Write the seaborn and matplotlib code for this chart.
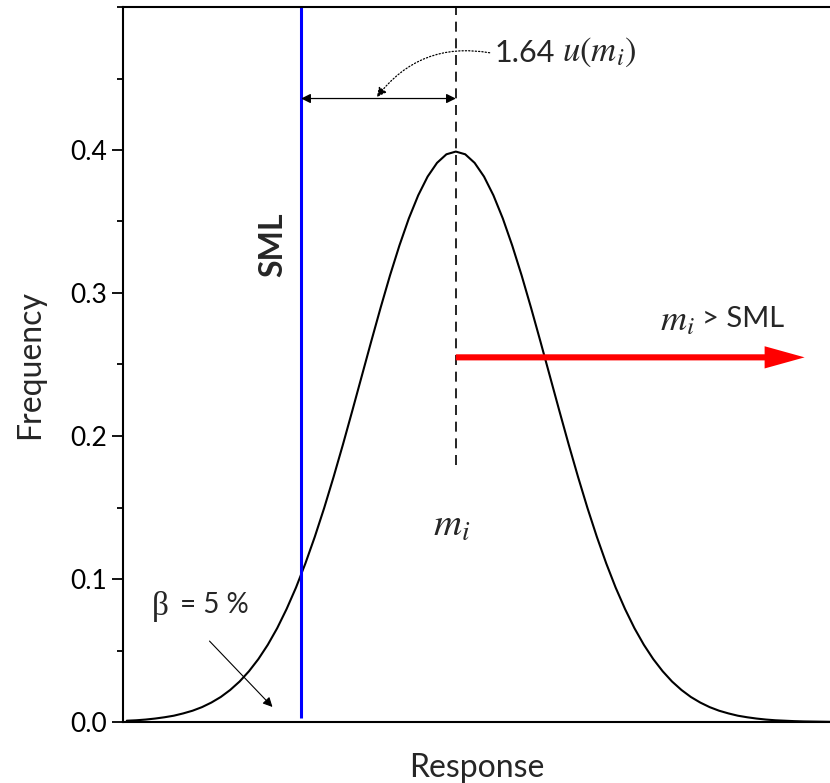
import numpy as np
import matplotlib.pyplot as plt
import matplotlib.ticker as mtick
import seaborn as sns

# ── Data (response in units of u(m_i), centred on m_i) ───────────────────────
response = [
    -3.5, -3.4, -3.3, -3.2, -3.1, -3.0, -2.9, -2.8, -2.7, -2.6,
    -2.5, -2.4, -2.3, -2.2, -2.1, -2.0, -1.9, -1.8, -1.7, -1.6,
    -1.5, -1.4, -1.3, -1.2, -1.1, -1.0, -0.9, -0.8, -0.7, -0.6,
    -0.5, -0.4, -0.3, -0.2, -0.1, 0.0, 0.1, 0.2, 0.3, 0.4,
    0.5, 0.6, 0.7, 0.8, 0.9, 1.0, 1.1, 1.2, 1.3, 1.4,
    1.5, 1.6, 1.7, 1.8, 1.9, 2.0, 2.1, 2.2, 2.3, 2.4,
    2.5, 2.6, 2.7, 2.8, 2.9, 3.0, 3.1, 3.2, 3.3, 3.4,
    3.5, 3.6, 3.7, 3.8, 3.9, 4.0,
]
frequency = [
    0.0009, 0.0012, 0.0017, 0.0024, 0.0033, 0.0044, 0.0060, 0.0079, 0.0104, 0.0136,
    0.0175, 0.0224, 0.0283, 0.0355, 0.0440, 0.0540, 0.0656, 0.0790, 0.0940, 0.1109,
    0.1295, 0.1497, 0.1714, 0.1942, 0.2179, 0.2420, 0.2661, 0.2897, 0.3123, 0.3332,
    0.3521, 0.3683, 0.3814, 0.3910, 0.3970, 0.3989, 0.3970, 0.3910, 0.3814, 0.3683,
    0.3521, 0.3332, 0.3123, 0.2897, 0.2661, 0.2420, 0.2179, 0.1942, 0.1714, 0.1497,
    0.1295, 0.1109, 0.0940, 0.0790, 0.0656, 0.0540, 0.0440, 0.0355, 0.0283, 0.0224,
    0.0175, 0.0136, 0.0104, 0.0079, 0.0060, 0.0044, 0.0033, 0.0024, 0.0017, 0.0012,
    0.0009, 0.0006, 0.0004, 0.0003, 0.0002, 0.0001,
]
sml_pos = -1.645
mean_pos = 0.0
y_ticks = [0.0, 0.1, 0.2, 0.3, 0.4]

# ── Style ─────────────────────────────────────────────────────────────────────
sns.set_theme(style="ticks")
plt.rcParams.update({
    "font.family": ["Lato", "DejaVu Sans"],
    "mathtext.fontset": "stix",
    "axes.linewidth": 1.5,
    "axes.edgecolor": "black",
    "ytick.major.size": 8,
    "ytick.minor.size": 4,
    "ytick.major.width": 1.3,
    "ytick.minor.width": 1.3,
    "ytick.color": "black",
    "ytick.labelsize": 19,
    "axes.labelsize": 23,
})
SERIF = ["Liberation Serif", "DejaVu Serif"]

fig = plt.figure(figsize=(8.3, 7.83), dpi=100)
ax = fig.add_axes([123 / 830, 61 / 783, 707 / 830, 715 / 783])

sns.lineplot(x=response, y=frequency, color="black", lw=1.5, ax=ax)

# SML line and mean marker
ax.plot([sml_pos, sml_pos], [0.003, 0.5], color="#0000ff", lw=2.2, solid_capstyle="butt")
ax.plot([mean_pos, mean_pos], [0.18, 0.5], color="black", lw=1.2, ls=(0, (6, 4)))

# 1.64 u(m_i) span
ax.annotate("", xy=(sml_pos, 0.436), xytext=(mean_pos, 0.436),
            arrowprops=dict(arrowstyle="<|-|>", color="black", lw=0.9,
                            mutation_scale=14, shrinkA=0, shrinkB=0))
ax.annotate("", xy=(-0.84, 0.437), xytext=(0.36, 0.468),
            arrowprops=dict(arrowstyle="-|>", color="black", lw=0.9, ls=":",
                            mutation_scale=14, shrinkA=0, shrinkB=0,
                            connectionstyle="arc3,rad=0.3"))
t164 = ax.text(0.415, 0.468, "1.64", fontsize=22, ha="left", va="center")
ax.annotate(r"$u(m_i)$", xy=(1, 0.5), xycoords=t164, xytext=(5, 0),
            textcoords="offset points", fontsize=25, ha="left", va="center")

# m_i > SML arrow
ax.annotate("", xy=(3.71, 0.255), xytext=(mean_pos, 0.255),
            arrowprops=dict(arrowstyle="simple,head_length=1.44,head_width=0.8,tail_width=0.22",
                            color="red", lw=0, mutation_scale=20, shrinkA=0, shrinkB=0))
tsml = ax.text(3.49, 0.282, "> SML", fontsize=21, ha="right", va="center")
ax.annotate(r"$m_i$", xy=(0, 0.5), xycoords=tsml, xytext=(-5, -1),
            textcoords="offset points", fontsize=26, ha="right", va="center")

ax.text(-1.95, 0.334, "SML", fontsize=23, fontweight="bold", rotation=90,
        ha="center", va="center")
ax.text(-0.04, 0.138, r"$m_i$", fontsize=28, ha="center", va="center")

# beta annotation
ax.text(-3.234, 0.081, "β", fontsize=24, family=SERIF, ha="left", va="center")
ax.text(-2.936, 0.082, "= 5 %", fontsize=20, ha="left", va="center")
ax.annotate("", xy=(-1.95, 0.0105), xytext=(-2.62, 0.0566),
            arrowprops=dict(arrowstyle="-|>", color="black", lw=0.8,
                            mutation_scale=14, shrinkA=0, shrinkB=0))

# ── Axes ──────────────────────────────────────────────────────────────────────
ax.set_xlim(-3.54, 3.98)
ax.set_ylim(0, 0.5)
ax.set_xticks([])
ax.set_yticks(y_ticks)
ax.yaxis.set_minor_locator(mtick.MultipleLocator(0.05))
ax.yaxis.set_major_formatter(mtick.FormatStrFormatter("%.1f"))
ax.spines["right"].set_visible(False)
ax.set_xlabel("Response", labelpad=22)
ax.set_ylabel("Frequency", labelpad=18)

fig.savefig("out.png", dpi=100)
plt.close(fig)
